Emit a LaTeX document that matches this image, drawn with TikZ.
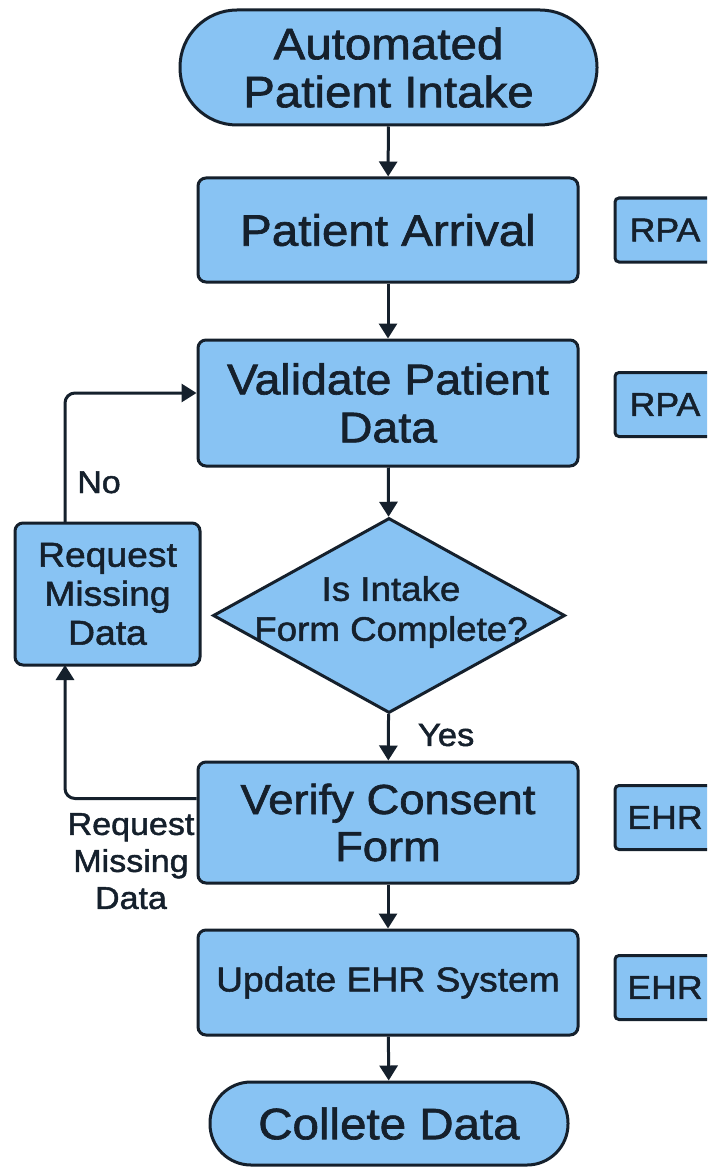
\documentclass[tikz,border=0pt]{standalone}
\usepackage{fontspec}
\setmainfont{Liberation Sans}[FakeStretch=1.08, FakeBold=1.5]
\usetikzlibrary{arrows.meta,shapes.geometric}
\definecolor{boxfill}{HTML}{88C3F3}
\definecolor{edgecol}{HTML}{15202C}
\begin{document}
\begin{tikzpicture}[x=1pt,y=-1pt,
  shapebase/.style={draw=edgecol, line width=3pt, fill=boxfill, align=center, inner sep=0pt, text=edgecol},
  procbox/.style={shapebase, rounded corners=8pt, minimum width=380pt},
  termbox/.style={shapebase},
  big/.style={font=\fontsize{43}{48}\selectfont},
  mid/.style={font=\fontsize{34.5}{39}\selectfont},
  tagbox/.style={shapebase, rounded corners=4pt, minimum width=100pt, minimum height=64pt, font=\fontsize{33}{36}\selectfont},
  arr/.style={draw=edgecol, line width=3pt, -{Triangle[length=15pt,width=18pt]}},
  lbl/.style={text=edgecol, align=center, inner sep=0pt, font=\fontsize{31.5}{37}\selectfont}
]
\useasboundingbox (0,0) rectangle (707,1169);
\fill[white] (0,0) rectangle (707,1169);
\clip (0,0) rectangle (707,1169);

% terminals
\node[termbox, font=\fontsize{44}{48}\selectfont, rounded corners=57pt, minimum width=417pt, minimum height=115pt] (start) at (388.5,67.5) {Automated\\Patient Intake};
\node[termbox, font=\fontsize{44}{48}\selectfont, rounded corners=41pt, minimum width=358pt, minimum height=83pt] (stop) at (389,1123.5) {Collete Data};

% process boxes
\node[procbox, font=\fontsize{44}{48}\selectfont, minimum height=104pt] (arrive) at (388,230) {Patient Arrival};
\node[procbox, big, minimum height=126pt] (valid) at (388,403) {Validate Patient\\Data};
\node[procbox, font=\fontsize{42}{47}\selectfont, minimum height=121pt] (verify) at (388,822.5) {Verify Consent\\Form};
\node[procbox, font=\fontsize{34.5}{38}\selectfont, minimum height=105pt] (update) at (388,982.5) {Update EHR System};
\node[procbox, mid, rounded corners=8pt, minimum width=185pt, minimum height=142pt] (request) at (107.5,594) {Request\\Missing\\Data};

% decision
\node[shapebase, diamond, shape aspect=1.8, minimum width=352pt, minimum height=195pt] (dec) at (389,615.5) {};
\node[lbl, font=\fontsize{34}{40}\selectfont] (dectext) at (391,612) {Is Intake\\Form Complete?};

% tags
\node[tagbox] (rpa1) at (665,230) {RPA};
\node[tagbox] (rpa2) at (665,404.5) {RPA};
\node[tagbox] (ehr1) at (665,817.5) {EHR};
\node[tagbox] (ehr2) at (665,987.5) {EHR};

% main flow
\draw[arr] (start) -- (arrive);
\draw[arr] (arrive) -- (valid);
\draw[arr] (valid) -- (dec);
\draw[arr] (dec) -- node[lbl, font=\fontsize{32}{37}\selectfont, right=28pt, pos=0.45] (yes) {Yes} (verify);
\draw[arr] (verify) -- (update);
\draw[arr] (update) -- (stop);

% loop
\coordinate (reqtop) at (65,523);
\coordinate (reqbot) at (65,665);
\draw[arr, rounded corners=10pt] (reqtop) |- ([yshift=10pt]valid.west);
\draw[arr, rounded corners=10pt] ([yshift=24pt]verify.west) -| (reqbot);
\node[lbl, anchor=base] (no) at (99,493) {No};
\node[lbl, anchor=north] (reqlbl) at (131,813) {Request\\Missing\\Data};
\end{tikzpicture}
\end{document}
